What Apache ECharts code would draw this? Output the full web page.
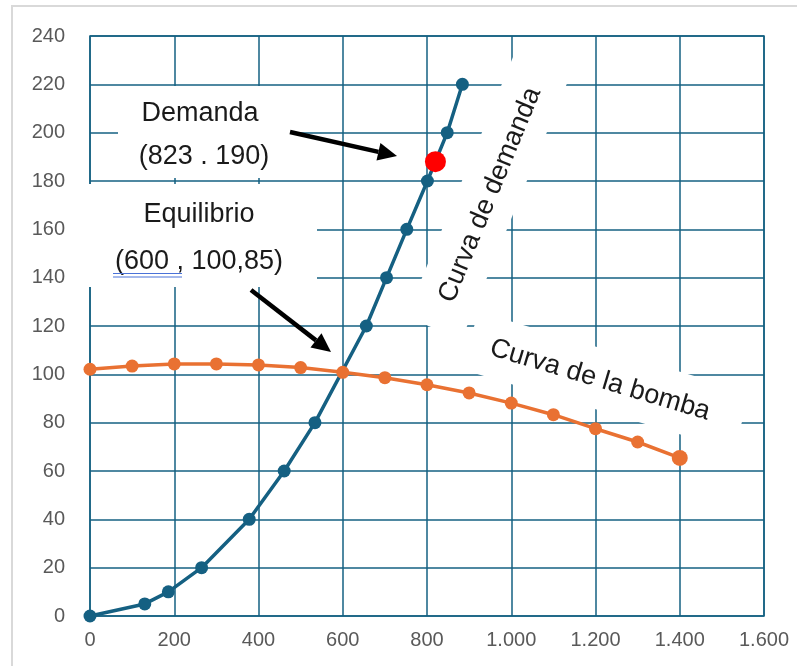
<!DOCTYPE html>
<html>
<head>
<meta charset="utf-8">
<script src="https://cdn.jsdelivr.net/npm/echarts@6/dist/echarts.min.js"></script>
<style>
html,body{margin:0;padding:0;background:#fff;}
#c{width:797px;height:666px;}
</style>
</head>
<body>
<div id="c"></div>
<script>
// ---- data ----
const demandX = [0, 130, 186, 265, 378, 461, 534, 656, 704, 752, 801, 848, 884];
const demandY = [0, 5, 10, 20, 40, 60, 80, 120, 140, 160, 180, 200, 220];
const pumpX = [0, 100, 200, 300, 400, 500, 600, 700, 800, 900, 1000, 1100, 1200, 1300, 1400];
const pumpY = [102.1, 103.4, 104.3, 104.3, 103.9, 102.8, 100.85, 98.6, 95.7, 92.3, 88.1, 83.3, 77.5, 72, 65.4];
const demandPoint = [820, 188];
const xMin = 0, xMax = 1600, xStep = 200;
const yMin = 0, yMax = 240, yStep = 20;
const labels = {
  demanda: 'Demanda',
  demandaVal: '(823 . 190)',
  equilibrio: 'Equilibrio',
  equilibrioVal: '(600 , 100,85)',
  curvaDemanda: 'Curva de demanda',
  curvaBomba: 'Curva de la bomba'
};

const TEAL = '#156082';
const ORANGE = '#E97132';
const chart = echarts.init(document.getElementById('c'));
const deg = Math.PI / 180;
const annFont = '27px "Liberation Sans", Arial, sans-serif';

function arrow(x1, y1, x2, y2) {
  const ang = Math.atan2(y2 - y1, x2 - x1);
  const hl = 19, hw = 9;
  const bx = x2 - hl * Math.cos(ang), by = y2 - hl * Math.sin(ang);
  const px = -Math.sin(ang) * hw, py = Math.cos(ang) * hw;
  return [
    { type: 'line', z: 10, shape: { x1: x1, y1: y1, x2: bx, y2: by }, style: { stroke: '#000', lineWidth: 4.5 } },
    { type: 'polygon', z: 10, shape: { points: [[x2, y2], [bx + px, by + py], [bx - px, by - py]] }, style: { fill: '#000' } }
  ];
}

const option = {
  animation: false,
  backgroundColor: '#fff',
  grid: { left: 90, right: 33, top: 36, bottom: 50, show: true, borderColor: TEAL, borderWidth: 1.5 },
  xAxis: {
    type: 'value', min: xMin, max: xMax, interval: xStep,
    axisLine: { show: false }, axisTick: { show: false },
    splitLine: { show: true, lineStyle: { color: TEAL, width: 1.5 } },
    axisLabel: {
      color: '#595959', fontSize: 20, margin: 14,
      fontFamily: '"Liberation Sans", Arial, sans-serif',
      formatter: v => String(v).replace(/\B(?=(\d{3})+(?!\d))/g, '.')
    }
  },
  yAxis: {
    type: 'value', min: yMin, max: yMax, interval: yStep,
    axisLine: { show: false }, axisTick: { show: false },
    splitLine: { show: true, lineStyle: { color: TEAL, width: 1.5 } },
    axisLabel: { color: '#595959', fontSize: 20, margin: 25, fontFamily: '"Liberation Sans", Arial, sans-serif' }
  },
  series: [
    {
      type: 'line', name: 'Curva de demanda', z: 3,
      data: demandX.map((x, i) => [x, demandY[i]]),
      symbol: 'circle', symbolSize: 13,
      lineStyle: { color: TEAL, width: 3.5 }, itemStyle: { color: TEAL }
    },
    {
      type: 'line', name: 'Curva de la bomba', z: 3,
      data: pumpX.map((x, i) => [x, pumpY[i]]),
      symbol: 'circle', symbolSize: (v, p) => p.dataIndex === pumpX.length - 1 ? 16 : 13,
      lineStyle: { color: ORANGE, width: 3.5 }, itemStyle: { color: ORANGE }
    },
    {
      type: 'scatter', z: 4,
      data: [demandPoint], symbolSize: 21,
      itemStyle: { color: '#FF0000', opacity: 1 }
    }
  ],
  graphic: [
    // outer chart area border
    { type: 'rect', z: 0, shape: { x: 12, y: 6, width: 820, height: 700 }, style: { fill: null, stroke: '#d9d9d9', lineWidth: 2 } },
    // white boxes behind annotations
    { type: 'rect', z: 1, shape: { x: 118, y: 86, width: 172, height: 92 }, style: { fill: '#fff' } },
    { type: 'rect', z: 1, shape: { x: 80, y: 184, width: 237, height: 103 }, style: { fill: '#fff' } },
    { type: 'rect', z: 1, x: 489, y: 194, rotation: 67.6 * deg,
      shape: { x: -145, y: -30, width: 290, height: 60 }, style: { fill: '#fff' } },
    { type: 'rect', z: 1, x: 606, y: 381, rotation: -16.6 * deg,
      shape: { x: -142, y: -30, width: 284, height: 60 }, style: { fill: '#fff' } },
    // texts
    { type: 'text', z: 10, x: 200, y: 114, style: { text: labels.demanda, font: annFont, fill: '#1a1a1a', align: 'center', verticalAlign: 'middle' } },
    { type: 'text', z: 10, x: 204, y: 157, style: { text: labels.demandaVal, font: annFont, fill: '#1a1a1a', align: 'center', verticalAlign: 'middle' } },
    { type: 'text', z: 10, x: 199, y: 215, style: { text: labels.equilibrio, font: annFont, fill: '#1a1a1a', align: 'center', verticalAlign: 'middle' } },
    { type: 'text', z: 10, x: 199, y: 262, style: { text: labels.equilibrioVal, font: annFont, fill: '#1a1a1a', align: 'center', verticalAlign: 'middle' } },
    { type: 'line', z: 10, shape: { x1: 113, y1: 273.5, x2: 182, y2: 273.5 }, style: { stroke: '#4a72d8', lineWidth: 1 } },
    { type: 'line', z: 10, shape: { x1: 113, y1: 277, x2: 182, y2: 277 }, style: { stroke: '#4a72d8', lineWidth: 1 } },
    { type: 'text', z: 10, x: 490, y: 195, rotation: 67.6 * deg,
      style: { text: labels.curvaDemanda, font: annFont, fill: '#1a1a1a', align: 'center', verticalAlign: 'middle' } },
    { type: 'text', z: 10, x: 600, y: 380, rotation: -16.6 * deg,
      style: { text: labels.curvaBomba, font: annFont, fill: '#1a1a1a', align: 'center', verticalAlign: 'middle' } }
  ].concat(arrow(290, 132, 397, 156)).concat(arrow(251, 290, 331, 352))
};
chart.setOption(option);
</script>
</body>
</html>
